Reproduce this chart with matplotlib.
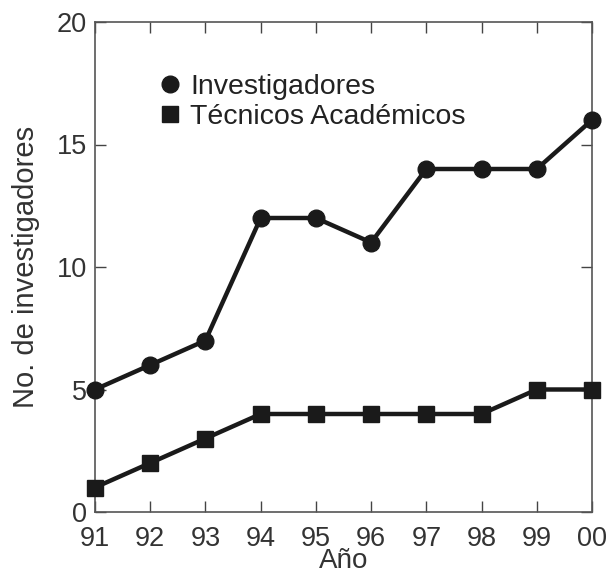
import matplotlib
matplotlib.use("Agg")
import matplotlib.pyplot as plt
from matplotlib.lines import Line2D

plt.rcParams['font.family'] = ['Liberation Sans', 'DejaVu Sans']

years = ["91", "92", "93", "94", "95", "96", "97", "98", "99", "00"]
investigadores = [5, 6, 7, 12, 12, 11, 14, 14, 14, 16]
tecnicos = [1, 2, 3, 4, 4, 4, 4, 4, 5, 5]
yticks = [0, 5, 10, 15, 20]

fig = plt.figure(figsize=(6.12, 5.75), dpi=100)
ax = fig.add_axes([95/612, 1 - 512/575, (592-95)/612, (512-22)/575])

x = list(range(len(years)))
ax.plot(x, investigadores, color='#1a1a1a', lw=3.2, marker='o', ms=12,
        clip_on=False, zorder=3)
ax.plot(x, tecnicos, color='#1a1a1a', lw=3.2, marker='s', ms=11.5,
        clip_on=False, zorder=3)

ax.set_xlim(0, len(years) - 1)
ax.set_ylim(0, 20)
ax.set_xticks(x)
ax.set_xticklabels(years)
ax.set_yticks(yticks)
ax.tick_params(direction='in', top=True, right=True, length=8, width=1,
               labelsize=19.5, colors='#444444', labelcolor='#333333')
ax.tick_params(axis='x', pad=10)
ax.tick_params(axis='y', pad=6)
for s in ax.spines.values():
    s.set_linewidth(1.2)
    s.set_color('#555555')

ax.set_xlabel("Año", fontsize=20, color='#333333', labelpad=-3)
ax.set_ylabel("No. de investigadores", fontsize=21, color='#333333', labelpad=12)

handles = [Line2D([], [], color='#1a1a1a', marker='o', ms=12, ls='none'),
           Line2D([], [], color='#1a1a1a', marker='s', ms=12, ls='none')]
ax.legend(handles, ["Investigadores", "Técnicos Académicos"], loc='upper left',
          bbox_to_anchor=(0.1, 0.918), frameon=False, fontsize=20.5,
          handletextpad=0.2, labelspacing=0.15, borderaxespad=0,
          handlelength=1.0, labelcolor='#222222')

fig.savefig("out.png", dpi=100)
